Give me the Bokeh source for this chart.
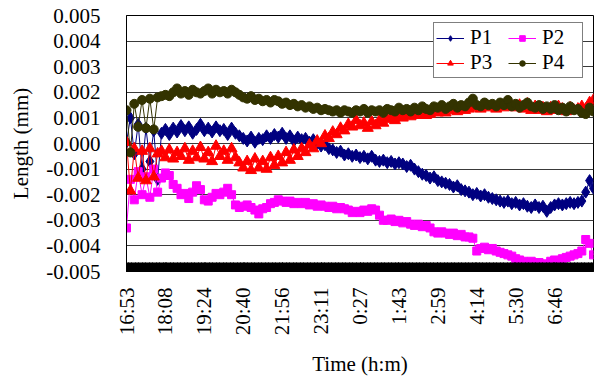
import numpy as np
from bokeh.plotting import figure
from bokeh.models import FixedTicker, Legend, LegendItem, Range1d, NumeralTickFormatter
from bokeh.embed import file_html
from bokeh.resources import INLINE

time_labels = ["16:53", "18:08", "19:24", "20:40", "21:56", "23:11",
               "0:27", "1:43", "2:59", "4:14", "5:30", "6:46"]
y_ticks = [-0.005, -0.004, -0.003, -0.002, -0.001, 0.0, 0.001, 0.002, 0.003, 0.004, 0.005]

p1 = [0.00005, 0.00100, -0.00040, 0.00075, -0.00100, 0.00060, -0.00070, 0.00050, -0.00140, 0.00040,
      0.00055, 0.00035, 0.00060, 0.00045, 0.00070, 0.00050, 0.00065, 0.00040, 0.00055, 0.00075,
      0.00050, 0.00060, 0.00045, 0.00065, 0.00050, 0.00055, 0.00035, 0.00060, 0.00040, 0.00030,
      0.00020, 0.00010, 0.00025, 0.00005, 0.00020, 0.00015, 0.00030, 0.00020, 0.00035, 0.00025,
      0.00040, 0.00020, 0.00030, 0.00010, 0.00025, 0.00015, 0.00020, 0.00005, 0.00015, 0.00000,
      -0.00010, -0.00005, -0.00020, -0.00025, -0.00035, -0.00030, -0.00045, -0.00040, -0.00050, -0.00045,
      -0.00055, -0.00050, -0.00060, -0.00050, -0.00065, -0.00070, -0.00065, -0.00075, -0.00070, -0.00080,
      -0.00075, -0.00080, -0.00090, -0.00085, -0.00100, -0.00110, -0.00120, -0.00125, -0.00135, -0.00130,
      -0.00145, -0.00150, -0.00155, -0.00160, -0.00170, -0.00165, -0.00180, -0.00185, -0.00190, -0.00200,
      -0.00195, -0.00205, -0.00200, -0.00210, -0.00215, -0.00220, -0.00225, -0.00230, -0.00225, -0.00235,
      -0.00230, -0.00240, -0.00235, -0.00245, -0.00250, -0.00240, -0.00250, -0.00245, -0.00265, -0.00250,
      -0.00240, -0.00235, -0.00240, -0.00235, -0.00230, -0.00235, -0.00230, -0.00225, -0.00190, -0.00145,
      -0.00175]

p2 = [-0.00330, -0.00140, -0.00220, -0.00110, -0.00200, -0.00130, -0.00210, -0.00100, -0.00190, -0.00135,
      -0.00115, -0.00125, -0.00160, -0.00175, -0.00200, -0.00195, -0.00215, -0.00190, -0.00165, -0.00180,
      -0.00220, -0.00225, -0.00210, -0.00195, -0.00200, -0.00190, -0.00175, -0.00200, -0.00240, -0.00250,
      -0.00245, -0.00240, -0.00250, -0.00260, -0.00275, -0.00255, -0.00250, -0.00235, -0.00230, -0.00220,
      -0.00225, -0.00230, -0.00225, -0.00235, -0.00230, -0.00235, -0.00230, -0.00240, -0.00235, -0.00245,
      -0.00240, -0.00245, -0.00250, -0.00245, -0.00255, -0.00250, -0.00255, -0.00260, -0.00270, -0.00265,
      -0.00270, -0.00260, -0.00265, -0.00255, -0.00260, -0.00280, -0.00300, -0.00300, -0.00295, -0.00305,
      -0.00300, -0.00310, -0.00305, -0.00315, -0.00320, -0.00315, -0.00325, -0.00320, -0.00330, -0.00345,
      -0.00350, -0.00345, -0.00350, -0.00355, -0.00350, -0.00360, -0.00355, -0.00365, -0.00365, -0.00370,
      -0.00420, -0.00410, -0.00405, -0.00415, -0.00410, -0.00420, -0.00425, -0.00430, -0.00435, -0.00440,
      -0.00450, -0.00455, -0.00460, -0.00465, -0.00460, -0.00470, -0.00465, -0.00475, -0.00470, -0.00460,
      -0.00455, -0.00460, -0.00450, -0.00445, -0.00440, -0.00435, -0.00430, -0.00420, -0.00375, -0.00390,
      -0.00435]

p3 = [0.00005, -0.00185, -0.00020, -0.00135, -0.00030, -0.00145, -0.00020, -0.00130, -0.00040, -0.00030,
      -0.00055, -0.00025, -0.00060, -0.00035, -0.00050, -0.00020, -0.00065, -0.00030, -0.00055, -0.00015,
      -0.00060, -0.00035, -0.00070, -0.00010, -0.00050, -0.00030, -0.00065, -0.00020, -0.00055, -0.00075,
      -0.00095, -0.00070, -0.00105, -0.00060, -0.00095, -0.00070, -0.00100, -0.00055, -0.00085, -0.00050,
      -0.00075, -0.00035, -0.00065, -0.00025, -0.00050, -0.00020, -0.00035, -0.00005, -0.00020, 0.00010,
      0.00000, 0.00030, 0.00020, 0.00045, 0.00035, 0.00060, 0.00050, 0.00075, 0.00065, 0.00090,
      0.00070, 0.00080, 0.00060, 0.00085, 0.00070, 0.00090, 0.00080, 0.00095, 0.00100, 0.00090,
      0.00105, 0.00100, 0.00110, 0.00105, 0.00115, 0.00110, 0.00120, 0.00110, 0.00115, 0.00125,
      0.00120, 0.00130, 0.00120, 0.00135, 0.00130, 0.00125, 0.00140, 0.00130, 0.00135, 0.00145,
      0.00140, 0.00135, 0.00150, 0.00140, 0.00145, 0.00135, 0.00150, 0.00140, 0.00160, 0.00145,
      0.00140, 0.00150, 0.00135, 0.00155, 0.00130, 0.00145, 0.00130, 0.00140, 0.00125, 0.00140,
      0.00130, 0.00145, 0.00135, 0.00125, 0.00140, 0.00130, 0.00135, 0.00145, 0.00135, 0.00160,
      0.00170]

p4 = [0.00130, -0.00035, 0.00155, 0.00065, 0.00170, 0.00060, 0.00175, 0.00055, 0.00180, 0.00185,
      0.00190, 0.00185, 0.00200, 0.00215, 0.00195, 0.00205, 0.00190, 0.00210, 0.00200, 0.00195,
      0.00205, 0.00215, 0.00195, 0.00210, 0.00200, 0.00205, 0.00195, 0.00210, 0.00200, 0.00190,
      0.00180, 0.00175, 0.00185, 0.00170, 0.00175, 0.00165, 0.00170, 0.00160, 0.00170, 0.00165,
      0.00155, 0.00160, 0.00150, 0.00155, 0.00145, 0.00150, 0.00140, 0.00145, 0.00135, 0.00140,
      0.00130, 0.00135, 0.00130, 0.00125, 0.00130, 0.00120, 0.00130, 0.00125, 0.00120, 0.00130,
      0.00125, 0.00135, 0.00120, 0.00130, 0.00125, 0.00130, 0.00120, 0.00135, 0.00130, 0.00125,
      0.00140, 0.00130, 0.00135, 0.00125, 0.00140, 0.00130, 0.00145, 0.00135, 0.00130, 0.00145,
      0.00140, 0.00150, 0.00135, 0.00145, 0.00155, 0.00140, 0.00150, 0.00145, 0.00160, 0.00175,
      0.00150, 0.00145, 0.00160, 0.00150, 0.00155, 0.00145, 0.00160, 0.00150, 0.00170, 0.00145,
      0.00155, 0.00140, 0.00150, 0.00160, 0.00145, 0.00140, 0.00150, 0.00135, 0.00145, 0.00135,
      0.00150, 0.00130, 0.00140, 0.00125, 0.00145, 0.00130, 0.00135, 0.00120, 0.00115, 0.00140,
      0.00125]

series_names = ["P1", "P2", "P3", "P4"]
series_colors = ["#000080", "#FF00FF", "#FF0000", "#333300"]
series_markers = ["diamond", "square", "triangle", "circle"]
series_sizes = [12, 8, 11, 9]

n = len(p1)
x = list(range(n))
label_step = 10
tick_pos = [i * label_step for i in range(len(time_labels))]

FONT = "Liberation Serif"

p = figure(width=596, height=379, output_backend="svg", toolbar_location=None,
           x_range=Range1d(0, n - 1), y_range=Range1d(-0.005, 0.005),
           min_border_left=126, min_border_right=3, min_border_top=15, min_border_bottom=104)
p.background_fill_color = "white"
p.border_fill_color = "white"
p.outline_line_color = "black"
p.outline_line_width = 1

# axes
xa = p.xaxis[0]
xa.ticker = FixedTicker(ticks=tick_pos, minor_ticks=[i * 0.2 for i in range(int((n - 1) / 0.2) + 1)])
xa.major_label_overrides = {t: lab for t, lab in zip(tick_pos, time_labels)}
xa.major_label_orientation = np.pi / 2
xa.major_tick_in = 9
xa.major_tick_out = 0
xa.minor_tick_in = 9
xa.minor_tick_out = 0
xa.major_tick_line_color = "black"
xa.minor_tick_line_color = "black"
xa.axis_line_color = "black"
xa.major_label_standoff = 16
xa.major_label_text_font = FONT
xa.major_label_text_font_size = "21px"
xa.major_label_text_color = "black"
xa.axis_label = "Time (h:m)"
xa.axis_label_text_font = FONT
xa.axis_label_text_font_size = "21px"
xa.axis_label_text_font_style = "normal"
xa.axis_label_text_color = "black"
xa.axis_label_standoff = 14

ya = p.yaxis[0]
ya.ticker = FixedTicker(ticks=y_ticks, minor_ticks=[])
ya.formatter = NumeralTickFormatter(format="0.000")
ya.major_tick_in = 0
ya.major_tick_out = 0
ya.minor_tick_in = 0
ya.minor_tick_out = 0
ya.axis_line_color = "black"
ya.major_label_standoff = 26
ya.major_label_text_font = FONT
ya.major_label_text_font_size = "21px"
ya.major_label_text_color = "black"
ya.axis_label = "Length (mm)"
ya.axis_label_text_font = FONT
ya.axis_label_text_font_size = "21px"
ya.axis_label_text_font_style = "normal"
ya.axis_label_text_color = "black"
ya.axis_label_standoff = 10

p.xgrid.visible = False
p.ygrid.ticker = FixedTicker(ticks=y_ticks)
p.ygrid.grid_line_color = "#3a3a3a"
p.ygrid.grid_line_width = 1

items = {}
for vals, name, col, mk, sz in zip([p1, p2, p3, p4], series_names, series_colors, series_markers, series_sizes):
    lr = p.line(x, vals, line_color=col, line_width=1)
    sr = p.scatter(x, vals, marker=mk, size=sz, fill_color=col, line_color=col)
    items[name] = LegendItem(label=name, renderers=[lr, sr])

# legend fills column by column: order so rows read P1 P2 / P3 P4
legend = Legend(items=[items["P1"], items["P3"], items["P2"], items["P4"]], ncols=2, location=(307, 193))
legend.label_text_font = FONT
legend.label_text_font_size = "21px"
legend.label_text_line_height = 1.0
legend.label_text_color = "black"
legend.border_line_color = "black"
legend.border_line_width = 1
legend.background_fill_color = "white"
legend.background_fill_alpha = 1
legend.glyph_width = 28
legend.glyph_height = 14
legend.label_standoff = 6
legend.label_width = 38
legend.label_height = 20
legend.padding = 2
legend.spacing = 0
legend.margin = 0
p.add_layout(legend, "center")

open("out.html", "w").write(file_html(p, INLINE))
